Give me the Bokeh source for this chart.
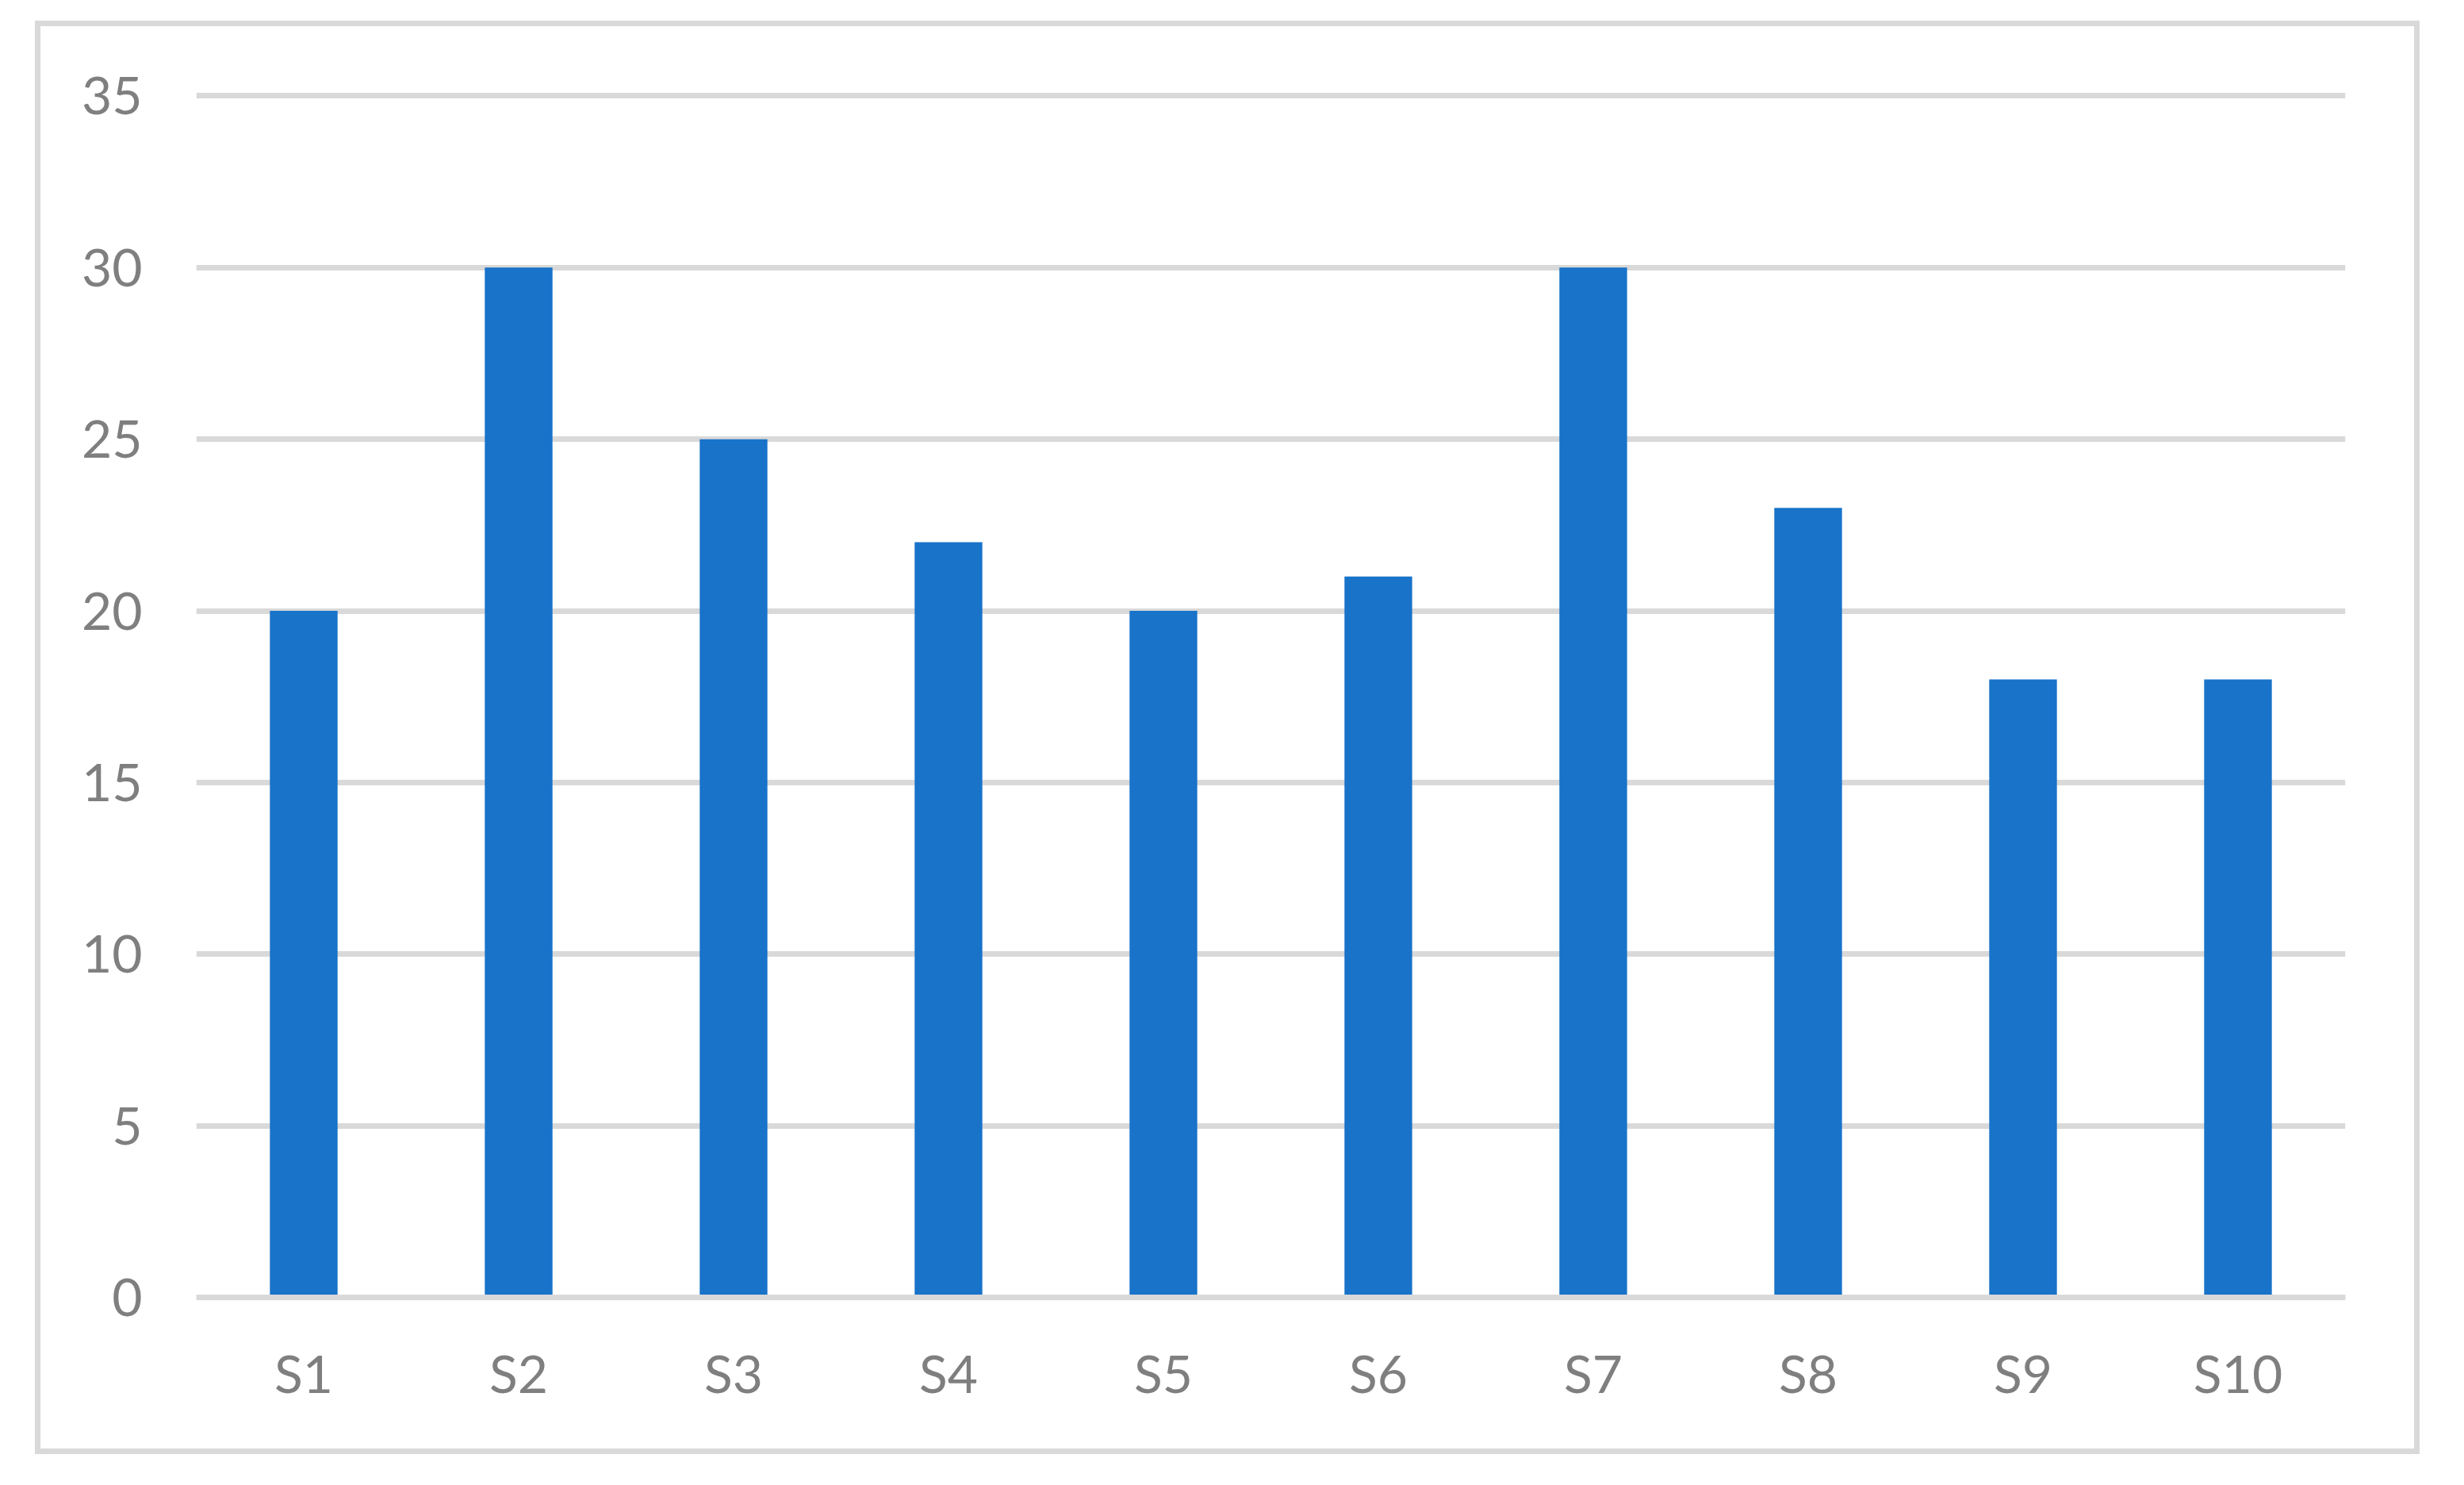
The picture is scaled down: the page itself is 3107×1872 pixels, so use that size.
from bokeh.plotting import figure
from bokeh.models import Range1d, FactorRange, FixedTicker, ColumnDataSource
from bokeh.embed import file_html
from bokeh.resources import INLINE

categories = ["S1", "S2", "S3", "S4", "S5", "S6", "S7", "S8", "S9", "S10"]
values = [20, 30, 25, 22, 20, 21, 30, 23, 18, 18]
y_ticks = [0, 5, 10, 15, 20, 25, 30, 35]

src = ColumnDataSource(data=dict(cat=categories, val=values))

p = figure(
    x_range=FactorRange(*categories, range_padding=0),
    y_range=Range1d(0, 35.15),
    width=3007, height=1807,
    output_backend="svg", toolbar_location=None,
    min_border_left=196, min_border_right=101,
    min_border_top=81, min_border_bottom=205,
    background_fill_color="white", border_fill_color="white",
)
p.margin = (26, 0, 0, 44)
p.styles = {"border": "7px solid #d9d9d9", "box-sizing": "border-box"}
p.outline_line_color = None

p.vbar(x="cat", top="val", width=0.315, source=src, fill_color="#1873c9", line_color=None)

label_font = "Lato"
label_color = "#7f7f7f"

xa = p.xaxis[0]
xa.axis_line_color = "#d9d9d9"
xa.axis_line_width = 7
xa.major_tick_line_color = None
xa.minor_tick_line_color = None
xa.major_label_text_font = label_font
xa.major_label_text_font_size = "66px"
xa.major_label_text_color = label_color
xa.major_label_standoff = 49

ya = p.yaxis[0]
ya.ticker = FixedTicker(ticks=y_ticks)
ya.axis_line_color = None
ya.major_tick_line_color = None
ya.minor_tick_line_color = None
ya.major_label_text_font = label_font
ya.major_label_text_font_size = "66px"
ya.major_label_text_color = label_color
ya.major_label_standoff = 62

p.xgrid.grid_line_color = None
p.ygrid.ticker = FixedTicker(ticks=y_ticks)
p.ygrid.grid_line_color = "#d9d9d9"
p.ygrid.grid_line_width = 7

open("out.html", "w").write(file_html(p, INLINE))
